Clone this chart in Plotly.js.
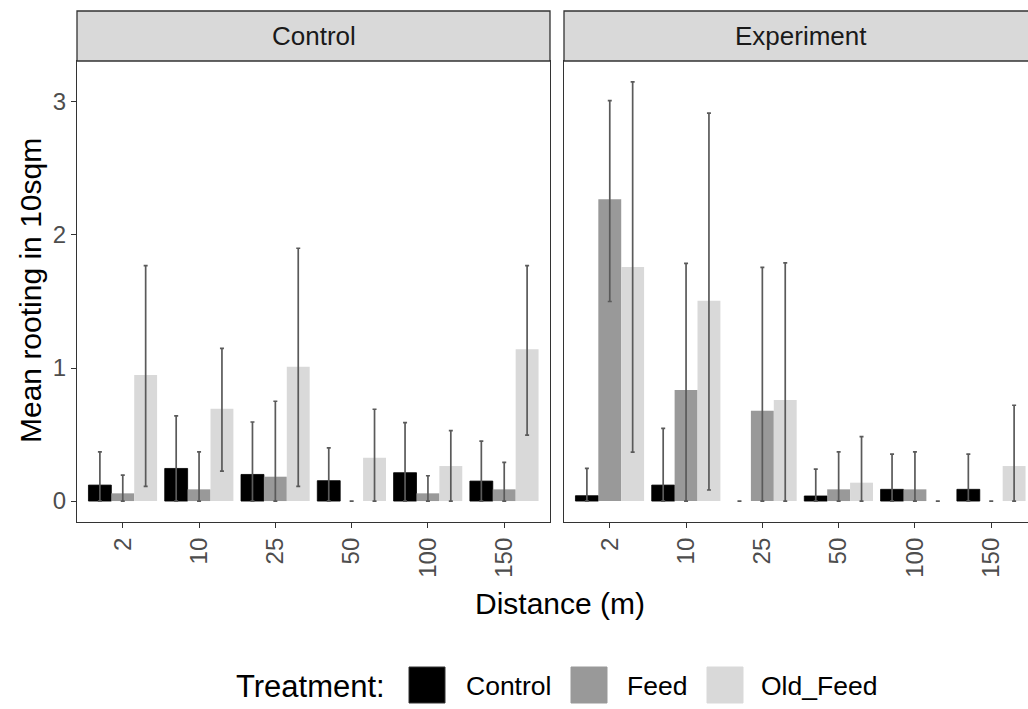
<!DOCTYPE html>
<html>
<head>
<meta charset="utf-8">
<script src="https://cdn.plot.ly/plotly-3.0.1.min.js"></script>
<style>
  html, body { margin: 0; padding: 0; background: #fff; overflow: hidden; }
  #chart { width: 1050px; height: 709px; }
</style>
</head>
<body>
<div id="chart"></div>
<script>
// Distance classes (m) on the x axis
const distances = ['2', '10', '25', '50', '100', '150'];
const facets = ['Control', 'Experiment'];
const treatments = ['Control', 'Feed', 'Old_Feed'];
const treatmentColors = ['#000000', '#999999', '#d9d9d9'];

// Facet "Control": mean rooting and error-bar limits per treatment
const ctrlControlMean = [0.12, 0.245, 0.20, 0.153, 0.213, 0.15];
const ctrlControlHi   = [0.37, 0.64, 0.594, 0.40, 0.59, 0.45];
const ctrlControlLo   = [0, 0, 0, 0, 0, 0];
const ctrlFeedMean    = [0.058, 0.088, 0.183, 0, 0.058, 0.088];
const ctrlFeedHi      = [0.195, 0.37, 0.75, 0, 0.19, 0.29];
const ctrlFeedLo      = [0, 0, 0, 0, 0, 0];
const ctrlOldMean     = [0.947, 0.694, 1.01, 0.326, 0.263, 1.14];
const ctrlOldHi       = [1.77, 1.148, 1.90, 0.69, 0.53, 1.77];
const ctrlOldLo       = [0.11, 0.225, 0.11, 0, 0, 0.496];

// Facet "Experiment"
const expControlMean = [0.04, 0.12, 0, 0.038, 0.088, 0.088];
const expControlHi   = [0.245, 0.546, 0, 0.24, 0.353, 0.353];
const expControlLo   = [0, 0, 0, 0, 0, 0];
const expFeedMean    = [2.268, 0.835, 0.679, 0.088, 0.088, 0];
const expFeedHi      = [3.01, 1.787, 1.757, 0.37, 0.37, 0];
const expFeedLo      = [1.50, 0, 0, 0, 0, 0];
const expOldMean     = [1.76, 1.506, 0.76, 0.138, 0, 0.263];
const expOldHi       = [3.15, 2.915, 1.79, 0.484, 0, 0.72];
const expOldLo       = [0.368, 0.083, 0, 0, 0, 0];

const series = [
  [[ctrlControlMean, ctrlControlHi, ctrlControlLo],
   [ctrlFeedMean, ctrlFeedHi, ctrlFeedLo],
   [ctrlOldMean, ctrlOldHi, ctrlOldLo]],
  [[expControlMean, expControlHi, expControlLo],
   [expFeedMean, expFeedHi, expFeedLo],
   [expOldMean, expOldHi, expOldLo]]
];

// Figure size in px, used to place paper-referenced items
const W = 1050, H = 709;
const fx = p => p / W;
const fy = p => 1 - p / H;

const FONT = 'Liberation Sans, Arial, sans-serif';

const traces = [];
facets.forEach((facet, fi) => {
  treatments.forEach((tr, ti) => {
    const [mean, hi, lo] = series[fi][ti];
    traces.push({
      type: 'bar',
      name: tr,
      x: distances,
      y: mean,
      xaxis: fi === 0 ? 'x' : 'x2',
      yaxis: fi === 0 ? 'y' : 'y2',
      offsetgroup: tr,
      showlegend: false,
      marker: {
        color: treatmentColors[ti],
        // outline only on non-empty black bars
        line: {
          color: '#000000',
          width: mean.map(m => (ti === 0 && m > 0) ? 0.8 : 0)
        }
      },
      error_y: {
        type: 'data',
        symmetric: false,
        array: hi.map((h, i) => h - mean[i]),
        arrayminus: lo.map((l, i) => mean[i] - l),
        color: '#5a5a5a',
        thickness: 1.7,
        width: 2
      },
      hovertemplate: facet + ' / ' + tr + '<br>%{x} m: %{y:.2f}<extra></extra>'
    });
  });
});

const xBase = {
  type: 'category',
  categoryorder: 'array',
  categoryarray: distances,
  range: [-0.6, 5.6],
  showgrid: false,
  zeroline: false,
  showline: true,
  mirror: true,
  linecolor: '#333333',
  linewidth: 1.3,
  ticks: 'outside',
  ticklen: 5,
  tickwidth: 1.1,
  tickcolor: '#333333',
  tickangle: -90,
  tickfont: { family: FONT, size: 24, color: '#4d4d4d' }
};
const yRange = [-0.1575, 3.3075];
const yDomain = [fy(522), fy(61)];

const panels = [[77, 550], [564, 1037]];

const shapes = [];
const annotations = [];
facets.forEach((facet, fi) => {
  const [a, b] = panels[fi];
  shapes.push({
    type: 'rect', xref: 'paper', yref: 'paper',
    x0: fx(a), x1: fx(b), y0: fy(61), y1: fy(11),
    fillcolor: '#d9d9d9',
    line: { color: '#333333', width: 1.3 }
  });
  annotations.push({
    xref: 'paper', yref: 'paper',
    x: fx((a + b) / 2), y: fy(36),
    xanchor: 'center', yanchor: 'middle',
    text: facet, showarrow: false,
    font: { family: FONT, size: 26, color: '#1a1a1a' }
  });
});

// Axis titles
annotations.push({
  xref: 'paper', yref: 'paper', x: fx(30), y: fy(291),
  xanchor: 'center', yanchor: 'middle', textangle: -90,
  text: 'Mean rooting in 10sqm', showarrow: false,
  font: { family: FONT, size: 30, color: '#000000' }
});
annotations.push({
  xref: 'paper', yref: 'paper', x: fx(560), y: fy(603),
  xanchor: 'center', yanchor: 'middle',
  text: 'Distance (m)', showarrow: false,
  font: { family: FONT, size: 30, color: '#000000' }
});

// Legend: title, square keys and labels along the bottom
annotations.push({
  xref: 'paper', yref: 'paper', x: fx(234), y: fy(686),
  xanchor: 'left', yanchor: 'middle',
  text: 'Treatment:', showarrow: false,
  font: { family: FONT, size: 31, color: '#000000' }
});
const keyLeft = [409, 571, 707];
const labelLeft = [464, 625, 759];
treatments.forEach((tr, ti) => {
  shapes.push({
    type: 'rect', xref: 'paper', yref: 'paper',
    x0: fx(keyLeft[ti]), x1: fx(keyLeft[ti] + 36), y0: fy(703), y1: fy(667),
    fillcolor: treatmentColors[ti],
    line: { color: ti === 0 ? '#333333' : treatmentColors[ti], width: 1 }
  });
  annotations.push({
    xref: 'paper', yref: 'paper', x: fx(labelLeft[ti]), y: fy(686),
    xanchor: 'left', yanchor: 'middle',
    text: tr, showarrow: false,
    font: { family: FONT, size: 26.5, color: '#000000' }
  });
});

const layout = {
  width: W,
  height: H,
  margin: { l: 0, r: 0, t: 0, b: 0 },
  paper_bgcolor: '#ffffff',
  plot_bgcolor: '#ffffff',
  barmode: 'group',
  bargap: 0.1,
  bargroupgap: 0,
  showlegend: false,
  font: { family: FONT },
  xaxis: Object.assign({}, xBase, { domain: [fx(77), fx(550)], anchor: 'y' }),
  xaxis2: Object.assign({}, xBase, { domain: [fx(564), fx(1037)], anchor: 'y2' }),
  yaxis: {
    domain: yDomain, anchor: 'x', range: yRange,
    tickvals: [0, 1, 2, 3],
    showgrid: false, zeroline: false,
    showline: true, mirror: true, linecolor: '#333333', linewidth: 1.3,
    ticks: 'outside', ticklen: 5, tickwidth: 1.1, tickcolor: '#333333',
    tickfont: { family: FONT, size: 24, color: '#4d4d4d' }
  },
  yaxis2: {
    domain: yDomain, anchor: 'x2', matches: 'y', range: yRange,
    showticklabels: false, ticks: '',
    showgrid: false, zeroline: false,
    showline: true, mirror: true, linecolor: '#333333', linewidth: 1.3
  },
  shapes: shapes,
  annotations: annotations
};

Plotly.newPlot('chart', traces, layout, { displayModeBar: false, responsive: false });
</script>
</body>
</html>
